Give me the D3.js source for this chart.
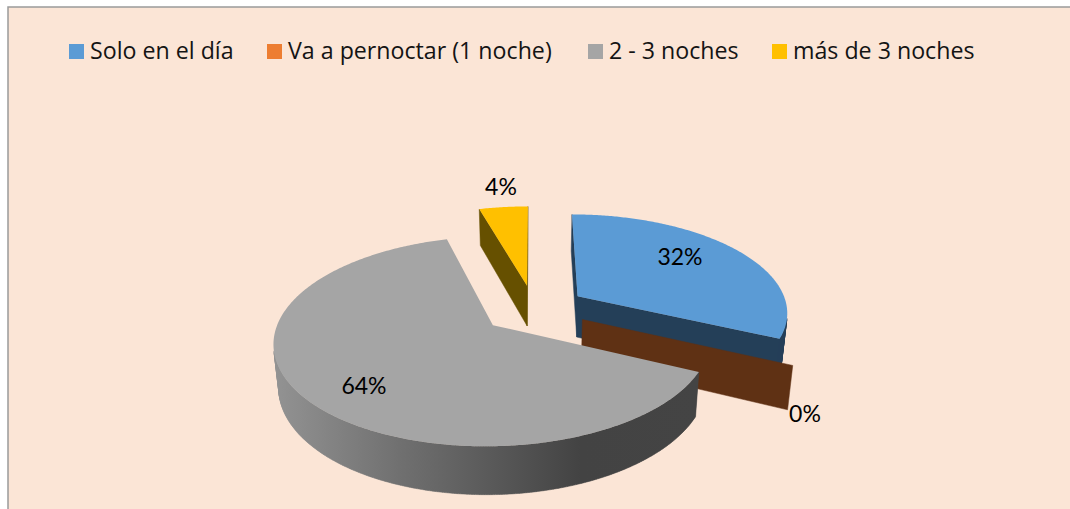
<!DOCTYPE html>
<html><head><meta charset="utf-8">
<script src="https://cdn.jsdelivr.net/npm/d3@7"></script>
<style>html,body{margin:0;padding:0;background:#fff;overflow:hidden}svg{display:block}</style>
</head><body><svg id="c" width="1070" height="509"></svg>
<script>
const categories = ["Solo en el día","Va a pernoctar (1 noche)","2 - 3 noches","más de 3 noches"];
const values = [32,0,63.6,4.4];
const labels = ["32%","0%","64%","4%"];
const topColors = ["#5b9bd5","#ed7d31","#a5a5a5","#ffc000"];
const wallColors = ["#243f58","#5f3114","url(#grayWall)","#665000"];
const legendX = [69,267,588,772];
const labelPos = [[680,257],[805,414],[364,386],[501,187]];
const gradientStops = [[0,"#929292"],[0.29,"#707070"],[0.53,"#575757"],[0.72,"#434343"],[1,"#444444"]];

const svg = d3.select("#c");
const grad = svg.append("defs").append("linearGradient").attr("id","grayWall")
  .attr("gradientUnits","userSpaceOnUse").attr("x1",277).attr("x2",700).attr("y1",0).attr("y2",0);
gradientStops.forEach(s=>grad.append("stop").attr("offset",s[0]).attr("stop-color",s[1]));

svg.append("rect").attr("x",8).attr("y",7).attr("width",1070).attr("height",510)
  .attr("fill","#fbe5d6").attr("stroke","#9a9a9a").attr("stroke-width",1.5);

// projection of the tilted pie
const Ox=534, Oy=309, A=210.5, B=97.6, K=0.15, EXPL=0.25, DEPTH=41.5, SHRINK=0.98;
const project=(X,Y,bottom)=>{
  const w=1+K*Y, u=A*X/w, v=-B*Y/w;
  return bottom ? [Ox+u*SHRINK, Oy+v+DEPTH/Math.pow(w,0.8)] : [Ox+u, Oy+v];
};
const arcs=d3.pie().sort(null).value(d=>d)(values);
const g=svg.append("g");
const order=[3,0,1,2];
order.forEach(i=>{
  const a=arcs[i], mid=(a.startAngle+a.endAngle)/2;
  const ox=EXPL*Math.sin(mid), oy=EXPL*Math.cos(mid);
  const rim=t=>[ox+Math.sin(t),oy+Math.cos(t)];
  const n=Math.max(1,Math.ceil((a.endAngle-a.startAngle)/0.01));
  const ring=d3.range(n+1).map(k=>rim(a.startAngle+(a.endAngle-a.startAngle)*k/n));
  const outline=[[ox,oy],...ring,[ox,oy]];
  const slice=g.append("g");
  let d="";
  for(let k=0;k<outline.length-1;k++){
    const P=outline[k],Q=outline[k+1];
    const quad=[project(P[0],P[1]),project(Q[0],Q[1]),project(Q[0],Q[1],true),project(P[0],P[1],true)];
    if(d3.polygonArea(quad)<=0) continue;
    d+="M"+quad.join("L")+"Z";
  }
  slice.append("path").attr("d",d).attr("fill",wallColors[i]).attr("stroke",wallColors[i]).attr("stroke-width",0.5);
  if(values[i]>0){
    const face=outline.slice(0,-1).map(p=>project(p[0],p[1]));
    slice.append("path").attr("d","M"+face.join("L")+"Z").attr("fill",topColors[i]);
  }
});

labels.forEach((t,i)=>{
  svg.append("text").attr("x",labelPos[i][0]).attr("y",labelPos[i][1]).attr("dy","0.35em")
    .attr("text-anchor","middle").attr("font-family","Lato").attr("font-size",23).attr("fill","#000").text(t);
});
categories.forEach((t,i)=>{
  svg.append("rect").attr("x",legendX[i]).attr("y",44).attr("width",15).attr("height",15).attr("fill",topColors[i]);
  svg.append("text").attr("x",legendX[i]+21).attr("y",59).attr("font-family","'Open Sans'").attr("font-size",23.2).attr("fill","#141414").text(t);
});
</script></body></html>
